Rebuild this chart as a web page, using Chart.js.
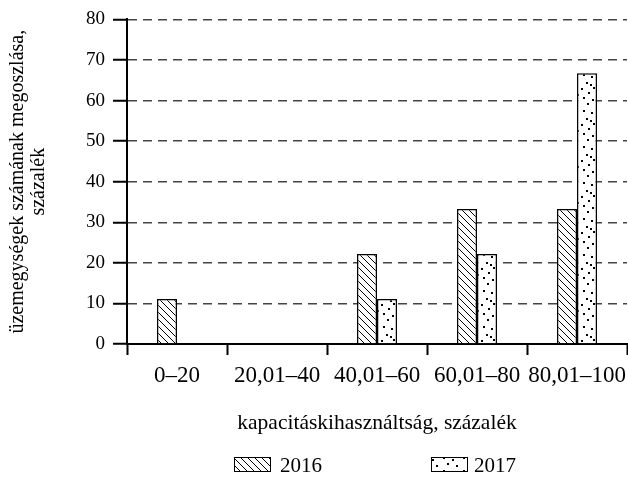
<!DOCTYPE html>
<html>
<head>
<meta charset="utf-8">
<script src="https://cdn.jsdelivr.net/npm/chart.js@4/dist/chart.umd.min.js"></script>
<style>
  html, body { margin: 0; padding: 0; background: #fff; }
  #wrap { width: 628px; height: 480px; }
</style>
</head>
<body>
<div id="wrap"><canvas id="myChart" width="628" height="480"></canvas></div>
<script>
// adatok
const categories = ['0–20', '20,01–40', '40,01–60', '60,01–80', '80,01–100'];
const values2016 = [11.1, 0, 22.2, 33.3, 33.3];
const values2017 = [0, 0, 11.1, 22.2, 66.7];
const yTicks = [0, 10, 20, 30, 40, 50, 60, 70, 80];
const seriesNames = ['2016', '2017'];

const serif = "'Liberation Serif', 'Times New Roman', serif";

// ferde vonalas minta
function makeHatch() {
    let c = document.createElement('canvas');
    c.width = 7; c.height = 7;
    let g = c.getContext('2d');
    g.fillStyle = '#fff';
    g.fillRect(0, 0, 7, 7);
    g.strokeStyle = '#000';
    g.lineWidth = 1;
    g.beginPath();
    g.moveTo(-1, -1); g.lineTo(8, 8);
    g.moveTo(-1, 6); g.lineTo(1, 8);
    g.moveTo(6, -1); g.lineTo(8, 1);
    g.stroke();
    return g.createPattern(c, 'repeat');
}

// pöttyös minta
function makeDots() {
    let c = document.createElement('canvas');
    c.width = 20; c.height = 36;
    let g = c.getContext('2d');
    g.fillStyle = '#fff';
    g.fillRect(0, 0, 20, 36);
    g.fillStyle = '#000';
    let pts = [[3,2],[11,4],[16,9],[6,10],[1,16],[13,15],[8,20],[17,22],[3,25],[12,27],[7,31],[16,33],[10,12]];
    pts.forEach(p => g.fillRect(p[0], p[1], 2, 2));
    return g.createPattern(c, 'repeat');
}

const hatch = makeHatch();
const dots = makeDots();

// egyedi jelmagyarázat
const legendPlugin = {
    id: 'customLegend',
    afterDraw(chart) {
        let ctx = chart.ctx;
        let items = [
            { box: 234, text: 280, fill: chart.data.datasets[0].backgroundColor, label: chart.data.datasets[0].label },
            { box: 431, text: 474, fill: chart.data.datasets[1].backgroundColor, label: chart.data.datasets[1].label }
        ];
        ctx.save();
        items.forEach(it => {
            ctx.fillStyle = it.fill;
            ctx.fillRect(it.box, 457, 37, 15);
            ctx.strokeStyle = '#000';
            ctx.lineWidth = 1;
            ctx.strokeRect(it.box + 0.5, 457.5, 36, 14);
            ctx.fillStyle = '#000';
            ctx.font = '21px ' + serif;
            ctx.textBaseline = 'middle';
            ctx.textAlign = 'left';
            ctx.fillText(it.label, it.text, 466);
        });
        ctx.restore();
    }
};

var ctx = document.getElementById('myChart').getContext('2d');
var chart = new Chart(ctx, {
    type: 'bar',
    data: {
        labels: categories,
        datasets: [{
            label: seriesNames[0],
            data: values2016,
            backgroundColor: hatch,
            borderColor: '#000',
            borderWidth: 1.5,
            categoryPercentage: 0.4,
            barPercentage: 1.0
        }, {
            label: seriesNames[1],
            data: values2017,
            backgroundColor: dots,
            borderColor: '#000',
            borderWidth: 1.5,
            categoryPercentage: 0.4,
            barPercentage: 1.0
        }]
    },
    options: {
        responsive: false,
        animation: false,
        layout: { padding: { top: 17, right: 1, left: 0, bottom: 40 } },
        plugins: {
            legend: { display: false },
            tooltip: { enabled: false }
        },
        scales: {
            x: {
                afterFit: (s) => { s.height = 96; s.paddingLeft = 0; s.paddingRight = 0; },
                grid: {
                    offset: true,
                    drawOnChartArea: false,
                    drawTicks: true,
                    tickLength: 11,
                    tickColor: '#000',
                    tickWidth: 2
                },
                border: { display: true, color: '#000', width: 2 },
                ticks: {
                    color: '#000',
                    padding: 7,
                    maxRotation: 0,
                    autoSkip: false,
                    font: { family: serif, size: 23 }
                },
                title: {
                    display: true,
                    text: 'kapacitáskihasználtság, százalék',
                    color: '#000',
                    font: { family: serif, size: 21.5 },
                    padding: { top: 0, bottom: 4 }
                }
            },
            y: {
                min: 0,
                max: 80,
                afterFit: (s) => { s.width = 127; },
                afterBuildTicks: (s) => { s.ticks = yTicks.map(v => ({ value: v })); },
                grid: {
                    color: '#444',
                    lineWidth: 1.5,
                    drawTicks: true,
                    tickLength: 14,
                    tickColor: '#000',
                    tickWidth: 2,
                    tickBorderDash: []
                },
                border: { display: true, color: '#000', width: 2, dash: [9, 6] },
                ticks: {
                    color: '#000',
                    padding: 8,
                    font: { family: serif, size: 19 }
                },
                title: {
                    display: true,
                    text: ['üzemegységek számának megoszlása,', 'százalék'],
                    color: '#000',
                    font: { family: serif, size: 20, lineHeight: 1.05 },
                    padding: { top: 7, bottom: 0 }
                }
            }
        }
    },
    plugins: [legendPlugin]
});
</script>
</body>
</html>
